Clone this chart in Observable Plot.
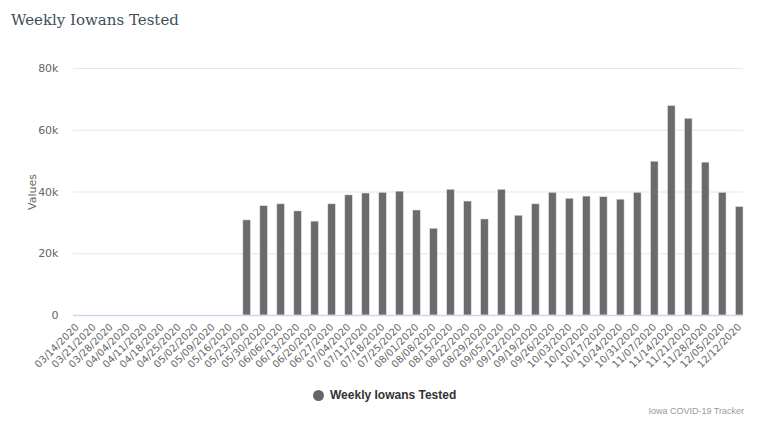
<!DOCTYPE html>
<html><head><meta charset="utf-8">
<script src="https://cdn.jsdelivr.net/npm/d3@7"></script>
<script src="https://cdn.jsdelivr.net/npm/@observablehq/plot@0.6"></script>
<style>
body{margin:0;background:#fff;width:763px;height:427px;overflow:hidden;font-family:"DejaVu Sans",sans-serif;position:relative;}
#title{position:absolute;left:11px;top:11px;font-family:"DejaVu Serif",serif;font-size:15px;color:#3d4f58;}
#chart{position:absolute;left:0;top:40px;}
#legend{position:absolute;top:388px;left:313px;font-family:"Liberation Sans",sans-serif;font-size:12px;font-weight:bold;color:#333;display:flex;align-items:center;}
#legend .dot{width:11px;height:11px;border-radius:50%;background:#666;margin-right:6px;}
#credits{position:absolute;right:19px;top:406px;font-family:"Liberation Sans",sans-serif;font-size:9px;color:#999;}
</style>
</head><body>
<div id="title">Weekly Iowans Tested</div>
<div id="chart"></div>
<div id="legend"><span class="dot"></span><span>Weekly Iowans Tested</span></div>
<div id="credits">Iowa COVID-19 Tracker</div>
<script>
const weeks = ["03/14/2020","03/21/2020","03/28/2020","04/04/2020","04/11/2020","04/18/2020","04/25/2020","05/02/2020","05/09/2020","05/16/2020","05/23/2020","05/30/2020","06/06/2020","06/13/2020","06/20/2020","06/27/2020","07/04/2020","07/11/2020","07/18/2020","07/25/2020","08/01/2020","08/08/2020","08/15/2020","08/22/2020","08/29/2020","09/05/2020","09/12/2020","09/19/2020","09/26/2020","10/03/2020","10/10/2020","10/17/2020","10/24/2020","10/31/2020","11/07/2020","11/14/2020","11/21/2020","11/28/2020","12/05/2020","12/12/2020"];
const tested = [0,0,0,0,0,0,0,0,0,0,30800,35400,36000,33700,30400,36000,38900,39500,39700,40100,34000,28100,40700,36900,31100,40700,32300,36000,39700,37800,38500,38300,37500,39700,49800,67800,63700,49500,39700,35100];
const yTicks = [0,20000,40000,60000,80000];
const yTickLabels = ["0","20k","40k","60k","80k"];

const data = weeks.map((w,i)=>({week:w, value:tested[i]}));

const chart = Plot.plot({
  width:763, height:340,
  marginLeft:73, marginRight:20, marginTop:28, marginBottom:65,
  style:{fontFamily:"DejaVu Sans, sans-serif", fontSize:"10px", color:"#666", background:"#fff"},
  x:{domain:weeks, paddingInner:0.56, paddingOuter:0},
  y:{domain:[0,80000]},
  marks:[
    Plot.gridY(yTicks,{stroke:"#e6e6e6", strokeOpacity:1}),
    Plot.barY(data,{x:"week", y:"value", fill:"#6b6b6b", stroke:"#ddd", strokeWidth:0.5}),
    Plot.ruleY([0],{stroke:"#ccd6eb", strokeWidth:1.5}),
    Plot.axisY({ticks:yTicks, tickFormat:(d)=>yTickLabels[yTicks.indexOf(d)], tickSize:0, tickPadding:15, fontSize:11, label:"Values", labelAnchor:"center", labelArrow:"none", labelOffset:45}),
    Plot.axisX({tickRotate:-45, tickSize:0, tickPadding:10, label:null, fontSize:10})
  ]
});
document.getElementById("chart").appendChild(chart);
</script>
</body></html>
